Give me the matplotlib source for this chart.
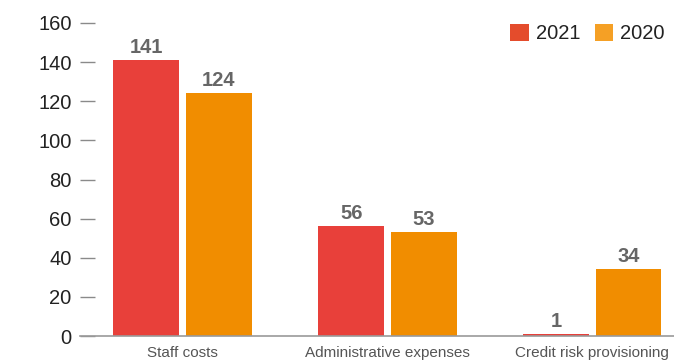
import matplotlib
matplotlib.use("Agg")
import matplotlib.pyplot as plt
from matplotlib.patches import Patch
import numpy as np

plt.rcParams['font.family'] = ['Liberation Sans', 'DejaVu Sans']

categories = ["Staff costs", "Administrative expenses", "Credit risk provisioning"]
years = ["2021", "2020"]
values_2021 = [141, 56, 1]
values_2020 = [124, 53, 34]
y_ticks = [0, 20, 40, 60, 80, 100, 120, 140, 160]

bar_colors = ["#E8403A", "#F18D00"]
legend_colors = ["#E44C2C", "#F5A025"]

W, H = 674, 361
fig = plt.figure(figsize=(W / 100, H / 100), dpi=100)
ax = fig.add_axes([80 / W, (H - 336) / H, (W - 80) / W, (336 - 23) / H])

x = np.arange(len(categories))
width = 0.32
offset = 0.177
series = [values_2021, values_2020]
for i, vals in enumerate(series):
    pos = x + (-offset if i == 0 else offset)
    bars = ax.bar(pos, vals, width=width, color=bar_colors[i], zorder=2)
    for b, v in zip(bars, vals):
        ax.annotate(str(v), (b.get_x() + b.get_width() / 2, v),
                    xytext=(0, 2.5), textcoords="offset points",
                    ha="center", va="bottom", fontsize=14.5, fontweight="bold",
                    color="#666666")

ax.set_xlim(-0.5, 2.398)
ax.set_ylim(0, 160)
ax.set_yticks(y_ticks)
ax.set_yticklabels([str(t) for t in y_ticks])
ax.set_xticks(x)
ax.set_xticklabels(categories)

for side in ["top", "right", "left"]:
    ax.spines[side].set_visible(False)
ax.spines["bottom"].set_color("#9a9a9a")
ax.spines["bottom"].set_linewidth(1.2)

ax.tick_params(axis="y", direction="in", length=11, width=1.0, color="#8a8a8a",
               pad=6, labelsize=14.5, labelcolor="#222222")
ax.tick_params(axis="x", length=0, pad=7, labelsize=11, labelcolor="#555555")

handles = [Patch(facecolor=c, edgecolor="none") for c in legend_colors]
ax.legend(handles, years, loc="upper right", ncol=2, frameon=False,
          bbox_to_anchor=(679 / W, (H - 10) / H), bbox_transform=fig.transFigure,
          fontsize=14.5, handlelength=0.9, handleheight=0.9, handletextpad=0.35,
          columnspacing=0.75, borderpad=0.2, labelcolor="#222222")

fig.savefig("out.png", dpi=100)
